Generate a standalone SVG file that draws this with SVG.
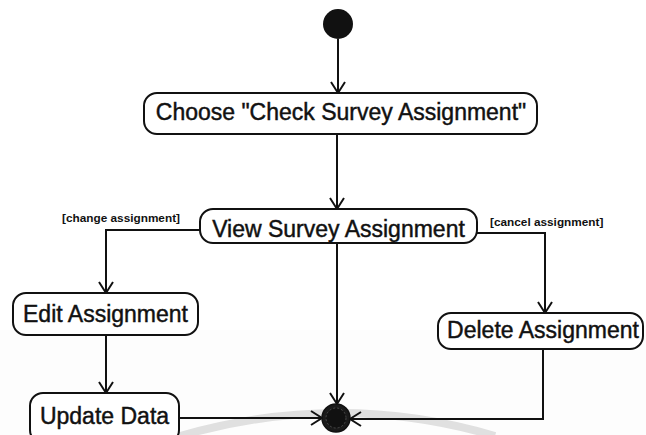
<svg xmlns="http://www.w3.org/2000/svg" width="646" height="435" viewBox="0 0 646 435">
  <defs>
    <marker id="arrow" markerUnits="userSpaceOnUse" markerWidth="14" markerHeight="16" refX="12" refY="8" orient="auto">
      <path d="M1,1 L12,8 L1,15" fill="none" stroke="#111" stroke-width="2"/>
    </marker>
    <style>
      .node rect { fill: #fff; stroke: #111; stroke-width: 2; }
      .label { font-family: "Liberation Sans", Arial, sans-serif; font-size: 23px; fill: #111; stroke: #111; stroke-width: 0.45; text-anchor: middle; }
      .guard { font-family: "Liberation Sans", Arial, sans-serif; font-size: 11.8px; font-weight: bold; fill: #111; }
      .edge { fill: none; stroke: #111; stroke-width: 2; }
    </style>
  </defs>

  <!-- page background with faint lower band and swoosh -->
  <rect x="0" y="0" width="646" height="435" fill="#fff"/>
  <rect x="0" y="330" width="646" height="105" fill="#fdfdfd"/>
  <path d="M180,436 Q340,390 495,436" fill="none" stroke="#e0e0e0" stroke-width="8"/>

  <!-- connectors -->
  <g id="connectors">
    <path class="edge" d="M338,39 L338,93" marker-end="url(#arrow)"/>
    <path class="edge" d="M337,134 L337,209" marker-end="url(#arrow)"/>
    <path class="edge" d="M200,230 L106,230 L106,293" marker-end="url(#arrow)"/>
    <path class="edge" d="M477,233 L545,233 L545,313" marker-end="url(#arrow)"/>
    <path class="edge" d="M337,243 L337,404" marker-end="url(#arrow)"/>
    <path class="edge" d="M106,335 L106,393" marker-end="url(#arrow)"/>
    <path class="edge" d="M179,418 L322,418" marker-end="url(#arrow)"/>
    <path class="edge" d="M543,349 L543,419 L350,419" marker-end="url(#arrow)"/>
    <text class="guard" x="62" y="222">[change assignment]</text>
    <text class="guard" x="490" y="226">[cancel assignment]</text>
  </g>

  <!-- initial node -->
  <g id="start">
    <circle cx="338" cy="24" r="15" fill="#111"/>
  </g>

  <g id="choose" class="node">
    <rect x="144" y="93" width="393" height="41" rx="13"/>
    <text class="label" x="341" y="120" font-size="24">Choose "Check Survey Assignment"</text>
  </g>

  <g id="view" class="node">
    <rect x="200" y="209" width="277" height="34" rx="13"/>
    <text class="label" x="338.5" y="237">View Survey Assignment</text>
  </g>

  <g id="edit" class="node">
    <rect x="13" y="293" width="185" height="42" rx="13"/>
    <text class="label" x="105.5" y="322">Edit Assignment</text>
  </g>

  <g id="delete" class="node">
    <rect x="438" y="313" width="205" height="36" rx="13"/>
    <text class="label" x="543" y="338">Delete Assignment</text>
  </g>

  <g id="update" class="node">
    <rect x="30" y="393" width="149" height="50" rx="13"/>
    <text class="label" x="104.5" y="424">Update Data</text>
  </g>

  <!-- final node -->
  <g id="end">
    <circle cx="336" cy="418" r="14" fill="#1a1a1a" stroke="#111" stroke-width="1.5"/>
    <circle cx="336" cy="418" r="10" fill="#111" stroke="#555" stroke-width="0.8" stroke-dasharray="2 2"/>
  </g>
</svg>
